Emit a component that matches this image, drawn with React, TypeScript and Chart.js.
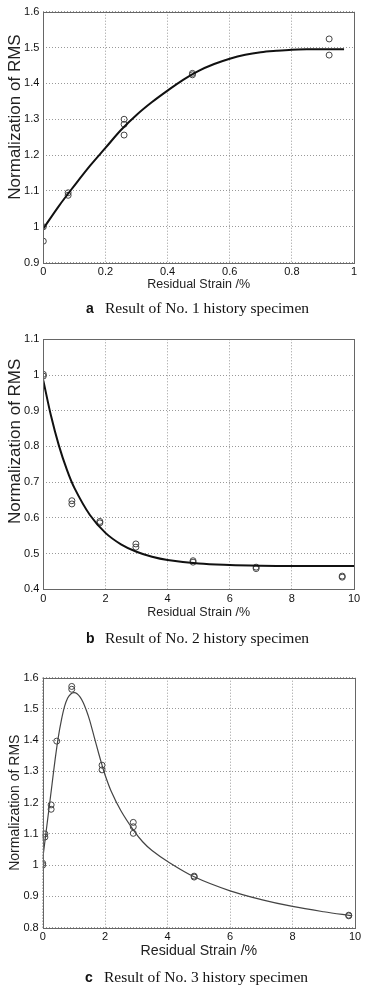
import React, { useEffect, useRef } from 'react';
import { Chart, registerables } from 'chart.js';
Chart.register(...registerables);

// ---------- Panel a ----------
const ptsAX = [0, 0, 0.08, 0.08, 0.26, 0.26, 0.26, 0.48, 0.48, 0.92, 0.92];
const ptsAY = [1.0, 0.96, 1.095, 1.088, 1.3, 1.286, 1.256, 1.428, 1.424, 1.524, 1.479];
const fitAX = [0, 0.05, 0.1, 0.15, 0.2, 0.25, 0.3, 0.35, 0.4, 0.45, 0.5, 0.55, 0.6, 0.65, 0.7, 0.75, 0.8, 0.85, 0.9, 0.968];
const fitAY = [0.995, 1.058, 1.115, 1.17, 1.22, 1.27, 1.312, 1.348, 1.38, 1.41, 1.435, 1.454, 1.469, 1.48, 1.487, 1.491, 1.494, 1.495, 1.495, 1.495];
const xTickValsA = [0, 0.2, 0.4, 0.6, 0.8, 1];
const xTickLabelsA = ['0', '0.2', '0.4', '0.6', '0.8', '1'];
const yTickValsA = [0.9, 1.0, 1.1, 1.2, 1.3, 1.4, 1.5, 1.6];
const yTickLabelsA = ['0.9', '1', '1.1', '1.2', '1.3', '1.4', '1.5', '1.6'];

// ---------- Panel b ----------
const ptsBX = [0, 0, 0.92, 0.92, 1.82, 1.82, 2.98, 2.98, 4.82, 4.82, 6.85, 6.85, 9.62, 9.62];
const ptsBY = [1.002, 0.997, 0.648, 0.639, 0.59, 0.586, 0.527, 0.518, 0.48, 0.476, 0.462, 0.458, 0.437, 0.434];
const fitBX = [0, 0.25, 0.5, 0.75, 1, 1.5, 2, 2.5, 3, 3.5, 4, 5, 6, 7, 8, 9, 10];
const fitBY = [0.985, 0.885, 0.803, 0.737, 0.684, 0.608, 0.558, 0.526, 0.505, 0.491, 0.482, 0.472, 0.468, 0.466, 0.465, 0.465, 0.465];
const xTickValsBC = [0, 2, 4, 6, 8, 10];
const xTickLabelsBC = ['0', '2', '4', '6', '8', '10'];
const yTickValsB = [0.4, 0.5, 0.6, 0.7, 0.8, 0.9, 1.0, 1.1];
const yTickLabelsB = ['0.4', '0.5', '0.6', '0.7', '0.8', '0.9', '1', '1.1'];

// ---------- Panel c ----------
const ptsCX = [0, 0, 0.07, 0.07, 0.27, 0.27, 0.45, 0.93, 0.93, 1.9, 1.9, 2.9, 2.9, 2.9, 4.85, 4.85, 9.8, 9.8];
const ptsCY = [1.006, 1.0, 1.1, 1.09, 1.193, 1.179, 1.397, 1.572, 1.563, 1.32, 1.305, 1.137, 1.123, 1.102, 0.965, 0.962, 0.84, 0.838];
const fitCX = [0, 0.1, 0.2, 0.3, 0.4, 0.5, 0.6, 0.7, 0.8, 0.9, 1.0, 1.1, 1.2, 1.3, 1.4, 1.5, 1.65, 1.8, 1.9, 2.0, 2.2, 2.5, 2.9, 3.2, 3.5, 4, 4.85, 6, 7, 8, 9, 9.9];
const fitCY = [1.02, 1.1, 1.18, 1.26, 1.34, 1.41, 1.465, 1.508, 1.535, 1.548, 1.552, 1.549, 1.538, 1.52, 1.495, 1.465, 1.41, 1.355, 1.32, 1.288, 1.235, 1.175, 1.113, 1.075, 1.047, 1.012, 0.963, 0.918, 0.89, 0.868, 0.851, 0.838];
const yTickValsC = [0.8, 0.9, 1.0, 1.1, 1.2, 1.3, 1.4, 1.5, 1.6];
const yTickLabelsC = ['0.8', '0.9', '1', '1.1', '1.2', '1.3', '1.4', '1.5', '1.6'];

const X_TITLE = 'Residual Strain /%';
const Y_TITLE = 'Normalization of RMS';
const SANS = '"Liberation Sans", Arial, Helvetica, sans-serif';
const SERIF = '"Liberation Serif", "Times New Roman", Times, serif';

const framePlugin = {
  id: 'frame',
  afterDraw(chart: any, _args: any, opts: any) {
    const { ctx, chartArea: a } = chart;
    ctx.save();
    ctx.strokeStyle = '#666';
    ctx.lineWidth = 1;
    ctx.strokeRect(Math.round(a.left) + 0.5, Math.round(a.top) + 0.5, Math.round(a.right - a.left), Math.round(a.bottom - a.top));
    ctx.fillStyle = '#222';
    ctx.textAlign = 'center';
    ctx.textBaseline = 'middle';
    ctx.font = `${opts.xSize}px ${SANS}`;
    ctx.fillText(X_TITLE, (a.left + a.right) / 2, opts.xTitleY);
    ctx.translate(opts.yTitleX, opts.yTitleY);
    ctx.rotate(-Math.PI / 2);
    ctx.font = `${opts.ySize}px ${SANS}`;
    ctx.fillText(Y_TITLE, 0, 0);
    ctx.restore();
  },
};

type PanelCfg = {
  ptsX: number[]; ptsY: number[]; fitX: number[]; fitY: number[];
  xMin: number; xMax: number; xVals: number[]; xLabels: string[];
  yMin: number; yMax: number; yVals: number[]; yLabels: string[];
  lineColor: string; lineWidth: number;
  padTop: number; padRight: number; yWidth: number; xHeight: number;
  xTitleY: number; yTitleX: number; yTitleY: number; xSize: number; ySize: number; tickSize: number;
};

function buildConfig(c: PanelCfg): any {
  const tickFont = { family: SANS, size: c.tickSize };
  return {
    type: 'scatter',
    data: {
      datasets: [
        {
          data: c.fitX.map((x, i) => ({ x, y: c.fitY[i] })),
          showLine: true,
          pointRadius: 0,
          borderColor: c.lineColor,
          borderWidth: c.lineWidth,
          tension: 0.35,
          fill: false,
        },
        {
          data: c.ptsX.map((x, i) => ({ x, y: c.ptsY[i] })),
          showLine: false,
          pointRadius: 3,
          pointStyle: 'circle',
          pointBorderColor: '#444',
          pointBackgroundColor: 'rgba(0,0,0,0)',
          pointBorderWidth: 1,
        },
      ],
    },
    options: {
      responsive: false,
      animation: false,
      layout: { padding: { top: c.padTop, right: c.padRight, left: 0, bottom: 0 } },
      plugins: {
        legend: { display: false },
        tooltip: { enabled: false },
        frame: { xTitleY: c.xTitleY, yTitleX: c.yTitleX, yTitleY: c.yTitleY, xSize: c.xSize, ySize: c.ySize },
      },
      scales: {
        x: {
          type: 'linear',
          min: c.xMin,
          max: c.xMax,
          afterBuildTicks: (s: any) => { s.ticks = c.xVals.map((v) => ({ value: v })); },
          afterFit: (s: any) => { s.height = c.xHeight; },
          grid: { color: '#999', lineWidth: 1, drawTicks: false },
          border: { display: false, dash: [1, 2] },
          ticks: { padding: 3, color: '#111', font: tickFont, maxRotation: 0, autoSkip: false, callback: (_v: any, i: number) => c.xLabels[i] },
        },
        y: {
          type: 'linear',
          min: c.yMin,
          max: c.yMax,
          afterBuildTicks: (s: any) => { s.ticks = c.yVals.map((v) => ({ value: v })); },
          afterFit: (s: any) => { s.width = c.yWidth; },
          grid: { color: '#999', lineWidth: 1, drawTicks: false },
          border: { display: false, dash: [1, 2] },
          ticks: { padding: 4, color: '#111', font: tickFont, autoSkip: false, callback: (_v: any, i: number) => c.yLabels[i] },
        },
      },
    },
    plugins: [framePlugin],
  };
}

function Panel({ cfg, top, height }: { cfg: PanelCfg; top: number; height: number }) {
  const ref = useRef<HTMLCanvasElement>(null);
  useEffect(() => {
    const chart = new Chart(ref.current as HTMLCanvasElement, buildConfig(cfg));
    return () => chart.destroy();
  }, []);
  return (
    <canvas ref={ref} width={369} height={height}
      style={{ position: 'absolute', left: 0, top, width: 369, height, display: 'block' }} />
  );
}

function Caption({ letter, text, centerY, left }: { letter: string; text: string; centerY: number; left: number }) {
  return (
    <div style={{ position: 'absolute', left, top: centerY - 10, height: 20, lineHeight: '20px', whiteSpace: 'nowrap', color: '#111' }}>
      <span style={{ fontFamily: SANS, fontWeight: 'bold', fontSize: 14, display: 'inline-block', width: 19 }}>{letter}</span>
      <span style={{ fontFamily: SERIF, fontSize: 15.5 }}>{text}</span>
    </div>
  );
}

const cfgA: PanelCfg = {
  ptsX: ptsAX, ptsY: ptsAY, fitX: fitAX, fitY: fitAY,
  xMin: 0, xMax: 1, xVals: xTickValsA, xLabels: xTickLabelsA,
  yMin: 0.9, yMax: 1.6, yVals: yTickValsA, yLabels: yTickLabelsA,
  lineColor: '#111', lineWidth: 2,
  padTop: 11.7, padRight: 15, yWidth: 43.3, xHeight: 300 - 262.7,
  xTitleY: 285, yTitleX: 15.3, yTitleY: 117, xSize: 12.5, ySize: 17, tickSize: 11,
};
const cfgB: PanelCfg = {
  ptsX: ptsBX, ptsY: ptsBY, fitX: fitBX, fitY: fitBY,
  xMin: 0, xMax: 10, xVals: xTickValsBC, xLabels: xTickLabelsBC,
  yMin: 0.4, yMax: 1.1, yVals: yTickValsB, yLabels: yTickLabelsB,
  lineColor: '#111', lineWidth: 2,
  padTop: 19.3, padRight: 15, yWidth: 43.3, xHeight: 310 - 269.3,
  xTitleY: 292.7, yTitleX: 15.3, yTitleY: 121.3, xSize: 12.5, ySize: 17, tickSize: 11,
};
const cfgC: PanelCfg = {
  ptsX: ptsCX, ptsY: ptsCY, fitX: fitCX, fitY: fitCY,
  xMin: 0, xMax: 10, xVals: xTickValsBC, xLabels: xTickLabelsBC,
  yMin: 0.8, yMax: 1.6, yVals: yTickValsC, yLabels: yTickLabelsC,
  lineColor: '#444', lineWidth: 1.2,
  padTop: 17.7, padRight: 14, yWidth: 42.7, xHeight: 305 - 267.7,
  xTitleY: 291, yTitleX: 15, yTitleY: 142.7, xSize: 14.2, ySize: 14, tickSize: 11,
};

export default function App() {
  return (
    <div style={{ position: 'absolute', left: 0, top: 0, width: 369, height: 989, background: '#fff', overflow: 'hidden' }}>
      <Panel cfg={cfgA} top={0} height={300} />
      <Caption letter="a" text="Result of No. 1 history specimen" centerY={308.3} left={86} />
      <Panel cfg={cfgB} top={320} height={310} />
      <Caption letter="b" text="Result of No. 2 history specimen" centerY={638.3} left={86} />
      <Panel cfg={cfgC} top={660} height={305} />
      <Caption letter="c" text="Result of No. 3 history specimen" centerY={976.7} left={85} />
    </div>
  );
}
